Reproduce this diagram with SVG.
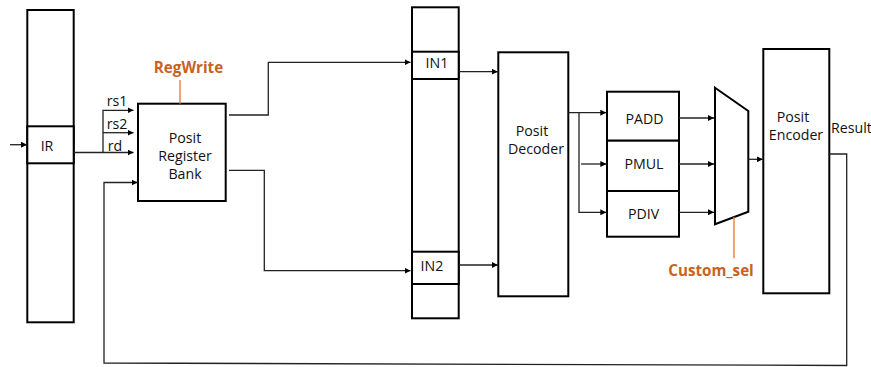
<svg xmlns="http://www.w3.org/2000/svg" width="871" height="367" viewBox="0 0 871 367">
<defs>
<marker id="ah" viewBox="0 0 8 8" refX="8" refY="4" markerWidth="6" markerHeight="6" markerUnits="userSpaceOnUse" orient="auto">
<path d="M0,0 L8,4 L0,8 z" fill="#000"/>
</marker>
<style>
.box{fill:#fff;stroke:#000;stroke-width:2}
.w{fill:none;stroke:#222;stroke-width:1.3}
.a{fill:none;stroke:#222;stroke-width:1.3;marker-end:url(#ah)}
.o{fill:none;stroke:#e0752d;stroke-width:1.3}
.t{font-family:"Open Sans","Noto Sans",sans-serif;font-size:14.2px;fill:#111;text-anchor:middle;dominant-baseline:central}
.ot{font-family:"Open Sans","Noto Sans",sans-serif;font-size:15.2px;font-weight:bold;fill:#c9621e;text-anchor:middle;dominant-baseline:central}
</style>
</defs>
<rect width="871" height="367" fill="#fff"/>
<g id="ir">
<rect class="box" x="27.3" y="10" width="46.4" height="312.3"/>
<rect class="box" x="27.3" y="126.3" width="46.4" height="37"/>
<text class="t" x="47" y="145">IR</text>
</g>
<g id="regbank">
<rect class="box" x="138" y="103.7" width="87.7" height="97.3"/>
<text class="t" x="185" y="137">Posit</text>
<text class="t" x="185" y="155">Register</text>
<text class="t" x="185" y="173">Bank</text>
</g>
<g id="regwrite">
<text class="ot" x="188.5" y="67">RegWrite</text>
<line class="o" x1="180" y1="80" x2="180" y2="103.7"/>
</g>
<g id="pipereg">
<rect class="box" x="412" y="7.3" width="46.7" height="311"/>
<rect class="box" x="412" y="51.7" width="46.7" height="27.3"/>
<rect class="box" x="412" y="251.7" width="46.7" height="32.3"/>
<text class="t" x="437" y="62.5">IN1</text>
<text class="t" x="432" y="265">IN2</text>
</g>
<g id="decoder">
<rect class="box" x="498.3" y="52.3" width="70" height="244"/>
<text class="t" x="532" y="130">Posit</text>
<text class="t" x="536" y="148.5">Decoder</text>
</g>
<g id="alu">
<rect class="box" x="607" y="91.7" width="72" height="49"/>
<rect class="box" x="607" y="140.7" width="72" height="50.3"/>
<rect class="box" x="607" y="191" width="72" height="45.7"/>
<text class="t" x="644.5" y="118.5">PADD</text>
<text class="t" x="644" y="163.5">PMUL</text>
<text class="t" x="643.5" y="213">PDIV</text>
</g>
<g id="mux">
<polygon class="box" points="715,87.7 748.3,111 748.3,211.7 715,224.3"/>
</g>
<g id="customsel">
<line class="o" x1="734" y1="217" x2="734" y2="258.3"/>
<text class="ot" x="711" y="269.5">Custom_sel</text>
</g>
<g id="encoder">
<rect class="box" x="763.3" y="49" width="66" height="244.3"/>
<text class="t" x="793" y="116">Posit</text>
<text class="t" x="796" y="134.5">Encoder</text>
</g>
<g id="labels">
<text class="t" x="117" y="100.5">rs1</text>
<text class="t" x="117" y="123">rs2</text>
<text class="t" x="115" y="145.5">rd</text>
<text class="t" x="831" y="127.5" style="text-anchor:start">Result</text>
</g>
<g id="connectors">
<line class="a" x1="10" y1="144.7" x2="27" y2="144.7"/>
<polyline class="a" points="73.7,152.5 103,152.5 103,152.5 133.5,152.5"/>
<polyline class="a" points="103,152.5 103,110.3 133.5,110.3"/>
<line class="a" x1="103" y1="132.7" x2="133.5" y2="132.7"/>
<polyline class="a" points="229,115 268.3,115 268.3,62.3 410.5,62.3"/>
<polyline class="a" points="229,170.3 264.3,170.3 264.3,270.7 410.5,270.7"/>
<line class="a" x1="459" y1="71.7" x2="497.8" y2="71.7"/>
<line class="a" x1="459" y1="265" x2="497.8" y2="265"/>
<polyline class="a" points="568.3,112.7 606.3,112.7"/>
<polyline class="a" points="579,112.7 579,212.3 606.3,212.3"/>
<line class="a" x1="581" y1="164" x2="606.3" y2="164"/>
<line class="a" x1="679" y1="118" x2="714" y2="118"/>
<line class="a" x1="679" y1="164" x2="714" y2="164"/>
<line class="a" x1="679" y1="212.3" x2="714" y2="212.3"/>
<line class="a" x1="748.3" y1="159.3" x2="762.8" y2="159.3"/>
<polyline class="a" points="829.3,154 846.7,154 846.7,365.5 104,363 104,182.5 137.5,182.5"/>
</g>
</svg>
